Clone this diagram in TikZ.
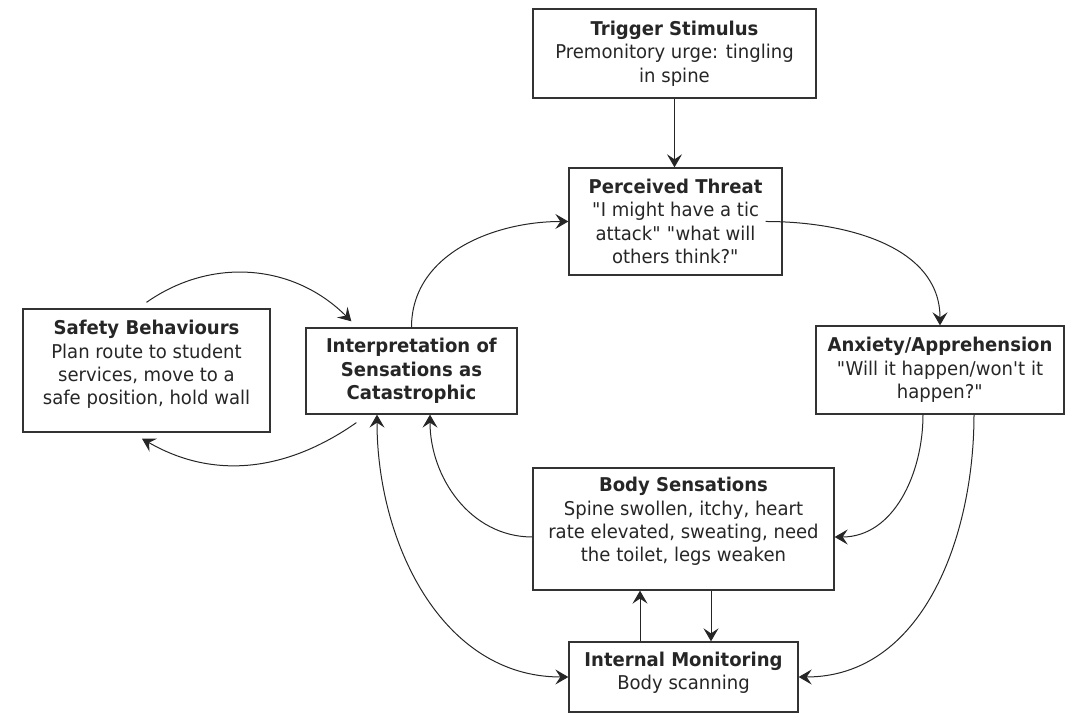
\documentclass[tikz,border=0pt]{standalone}
\usepackage{fontspec}
\setmainfont{DejaVu Sans}[FakeStretch=0.95]
\usepackage{xcolor}
\usetikzlibrary{arrows.meta}

\newcommand{\padbelow}[1]{\rule[-#1]{0pt}{#1}}

\begin{document}
\begin{tikzpicture}[x=1pt,y=1pt,
    >={Stealth[length=13pt,width=15pt,inset=5pt]},
    stage/.style={draw=black!80,line width=1.3pt,align=center,inner sep=4pt,
      font=\fontsize{19pt}{23.3pt}\selectfont,text=black!85},
    flow/.style={->,line width=1pt,draw=black!85}]
    \useasboundingbox (0,0) rectangle (1076,714);

    % Kaesten
    \node[stage,minimum width=283pt,minimum height=89pt] (trigger) at (674.5,660.5)
      {\textbf{Trigger Stimulus}\\Premonitory urge: tingling\\in spine};
    \node[stage,minimum width=213pt,minimum height=107pt] (threat) at (675.5,492.5)
      {\textbf{Perceived Threat}\\\textquotedbl I might have a tic\\attack\textquotedbl{} \textquotedbl what will\\others think?\textquotedbl};
    \node[stage,minimum width=247pt,minimum height=123pt] (safety) at (146.5,343.5)
      {\textbf{Safety Behaviours}\\Plan route to student\\services, move to a\\safe position, hold wall\padbelow{16pt}};
    \node[stage,minimum width=211pt,minimum height=86pt] (interp) at (411.5,343)
      {\textbf{Interpretation of}\\\textbf{Sensations as}\\\textbf{Catastrophic}};
    \node[stage,minimum width=248pt,minimum height=88pt] (anxiety) at (940,344)
      {\textbf{Anxiety/Apprehension}\\\textquotedbl Will it happen/won\textquotesingle t it\\happen?\textquotedbl};
    \node[stage,minimum width=301pt,minimum height=122pt] (body) at (683.5,185)
      {\textbf{Body Sensations}\\Spine swollen, itchy, heart\\rate elevated, sweating, need\\the toilet, legs weaken\padbelow{19pt}};
    \node[stage,minimum width=229pt,minimum height=70pt] (monitor) at (683.5,37)
      {\textbf{Internal Monitoring}\\Body scanning\padbelow{12pt}};

    % Ausloeser
    \draw[flow] (trigger.south) -- (trigger.south |- threat.north);

    % Hauptkreis
    \draw[flow] (interp.north) to[out=90,in=180] (threat.west);
    \draw[flow] ([xshift=-17pt]threat.east) to[out=0,in=90] (anxiety.north);
    \draw[flow] ([xshift=-17pt]anxiety.south) to[out=-90,in=0] ([yshift=-8pt]body.east);
    \draw[flow] ([xshift=34pt]anxiety.south) to[out=-90,in=0] (monitor.east);
    \draw[flow] ([yshift=-8pt]body.west) to[out=180,in=-90] ([xshift=18.5pt]interp.south);
    \draw[flow,<->] ([xshift=-34.5pt]interp.south) to[out=-90,in=180] (monitor.west);

    % Beobachtung
    \draw[flow] ([xshift=-43.5pt]monitor.north) -- ([xshift=-43.5pt]body.south);
    \draw[flow] ([xshift=27.5pt]body.south) -- ([xshift=27.5pt]monitor.north);

    % Sicherheitsverhalten
    \draw[flow] ([yshift=6pt]safety.north) to[out=35,in=135] ([shift={(46pt,6pt)}]interp.north west);
    \draw[flow] ([shift={(51pt,-8pt)}]interp.south west) to[out=-145,in=-30] ([shift={(-4.5pt,-6pt)}]safety.south);
\end{tikzpicture}
\end{document}
